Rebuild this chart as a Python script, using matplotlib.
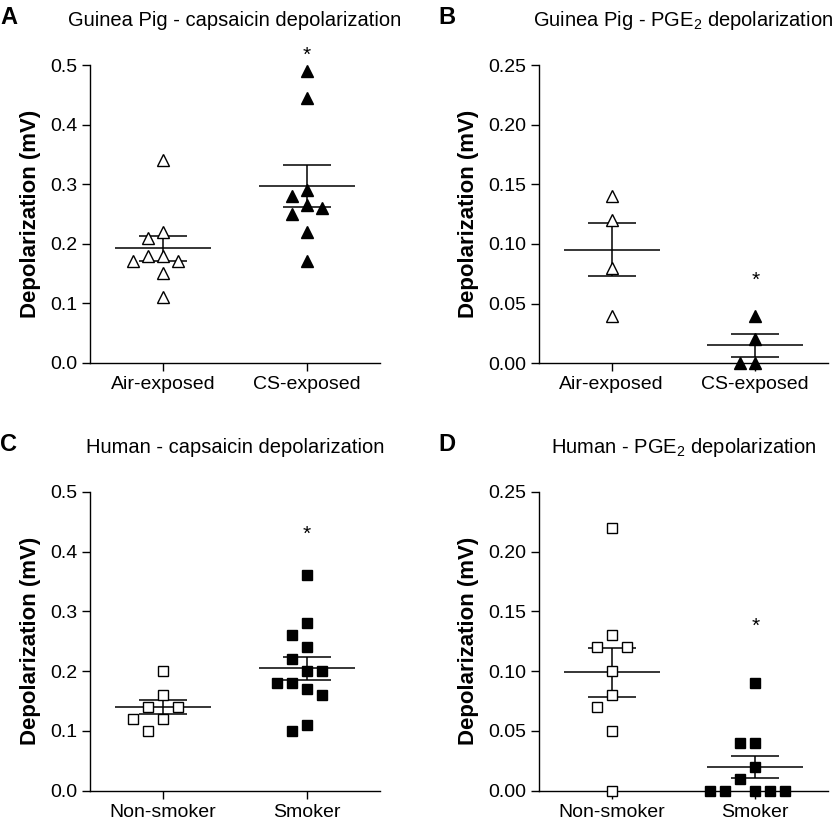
import numpy as np
import matplotlib
matplotlib.use("Agg")
import matplotlib.pyplot as plt

plt.rcParams.update({
    "font.family": ["Liberation Sans", "DejaVu Sans"],
    "mathtext.fontset": "custom",
    "mathtext.rm": "Liberation Sans",
    "mathtext.default": "regular",
    "font.size": 14,
    "axes.linewidth": 1.0,
    "xtick.major.width": 1.0,
    "ytick.major.width": 1.0,
    "xtick.major.size": 5.5,
    "ytick.major.size": 5.5,
    "xtick.major.pad": 4,
    "ytick.major.pad": 3.5,
})

# depolarization (mV)
gp_cap_air = [0.34, 0.22, 0.21, 0.18, 0.18, 0.17, 0.17, 0.15, 0.11]
gp_cap_cs = [0.49, 0.445, 0.29, 0.28, 0.265, 0.26, 0.25, 0.22, 0.17]
gp_pge_air = [0.14, 0.12, 0.08, 0.04]
gp_pge_cs = [0.04, 0.02, 0.0, 0.0]
hu_cap_non = [0.20, 0.16, 0.14, 0.14, 0.12, 0.12, 0.10]
hu_cap_smk = [0.36, 0.28, 0.26, 0.24, 0.22, 0.20, 0.20, 0.18, 0.18, 0.17, 0.16, 0.11, 0.10]
hu_pge_non = [0.22, 0.13, 0.12, 0.12, 0.10, 0.08, 0.07, 0.05, 0.0]
hu_pge_smk = [0.09, 0.04, 0.04, 0.02, 0.01, 0.0, 0.0, 0.0, 0.0, 0.0]

gp_groups = ["Air-exposed", "CS-exposed"]
hu_groups = ["Non-smoker", "Smoker"]
cap_ticks = [0.0, 0.1, 0.2, 0.3, 0.4, 0.5]
pge_ticks = [0.00, 0.05, 0.10, 0.15, 0.20, 0.25]
star_y = [0.526, 0.074, 0.438, 0.142]

W, H = 835, 827


def box(left, top, right, bottom):
    return [left / W, 1 - bottom / H, (right - left) / W, (bottom - top) / H]


def swarm(values, px_per_y, wid=14.0, hgt=12.0, step=7.5):
    # simple greedy beeswarm, returns offsets in pixels
    vals = np.asarray(values, dtype=float)
    offs = np.zeros(len(vals))
    placed = []
    cands = [0.0]
    for k in range(1, 12):
        cands += [-k * step, k * step]
    for i in np.argsort(-vals, kind="stable"):
        y = vals[i] * px_per_y
        for c in cands:
            if all(abs(c - px) >= wid - 1e-6 or abs(y - py) >= hgt - 1e-6 for px, py in placed):
                break
        offs[i] = c
        placed.append((c, y))
    return offs


panels = [
    ("A", "Guinea Pig - capsaicin depolarization", box(90, 65, 380, 362.7),
     gp_groups, gp_cap_air, gp_cap_cs, cap_ticks, "%.1f", "^", 8.5),
    ("B", "Guinea Pig - PGE$_2$ depolarization", box(539, 65, 828, 363.3),
     gp_groups, gp_pge_air, gp_pge_cs, pge_ticks, "%.2f", "^", 8.5),
    ("C", "Human - capsaicin depolarization", box(90, 491.7, 380, 790.7),
     hu_groups, hu_cap_non, hu_cap_smk, cap_ticks, "%.1f", "s", 7.3),
    ("D", "Human - PGE$_2$ depolarization", box(539, 491.7, 828, 790.7),
     hu_groups, hu_pge_non, hu_pge_smk, pge_ticks, "%.2f", "s", 7.3),
]

fig = plt.figure(figsize=(W / 100, H / 100), dpi=100)

for n, (letter, title, pos, groups, ctrl, treat, yticks, fmt, marker, ms) in enumerate(panels):
    ax = fig.add_axes(pos)
    xlo, xhi = -0.507, 1.507
    ymax = yticks[-1]
    px_per_x = pos[2] * W / (xhi - xlo)
    px_per_y = pos[3] * H / ymax

    for gi, (vals, face) in enumerate([(ctrl, "white"), (treat, "black")]):
        vals = np.asarray(vals)
        offs = swarm(vals, px_per_y) / px_per_x
        ax.plot(gi + offs, vals, linestyle="none", marker=marker, ms=ms,
                mfc=face, mec="black", mew=1.0, clip_on=False, zorder=3)
        mean = vals.mean()
        sem = vals.std(ddof=1) / np.sqrt(len(vals))
        ax.hlines(mean, gi - 0.333, gi + 0.333, color="black", lw=1.1, zorder=2)
        ax.hlines([mean - sem, mean + sem], gi - 0.167, gi + 0.167, color="black", lw=1.1, zorder=2)
        ax.vlines(gi, mean - sem, mean + sem, color="black", lw=1.1, zorder=2)

    ax.annotate("*", xy=(1, star_y[n]), xytext=(0, -8), textcoords="offset points",
                ha="center", va="baseline", fontsize=15, annotation_clip=False)

    ax.set_xlim(xlo, xhi)
    ax.set_ylim(0, ymax)
    ax.set_xticks([0, 1])
    ax.set_xticklabels(groups, fontsize=14)
    ax.set_yticks(yticks)
    ax.set_yticklabels([fmt % t for t in yticks], fontsize=14)
    ax.spines["top"].set_visible(False)
    ax.spines["right"].set_visible(False)
    ax.set_ylabel("Depolarization (mV)", fontsize=16, fontweight="bold", labelpad=7)

    top_px = (1 - pos[1] - pos[3]) * H
    ax_cx = pos[0] + pos[2] / 2
    fig.text(ax_cx, 1 - (top_px - 38.5) / H, title, ha="center", va="baseline", fontsize=14.5)
    lx = 0.0 if letter in "AC" else 438 / W
    fig.text(lx, 1 - (top_px - 41) / H, letter, ha="left", va="baseline",
             fontsize=17, fontweight="bold")

fig.savefig("out.png", dpi=100)
